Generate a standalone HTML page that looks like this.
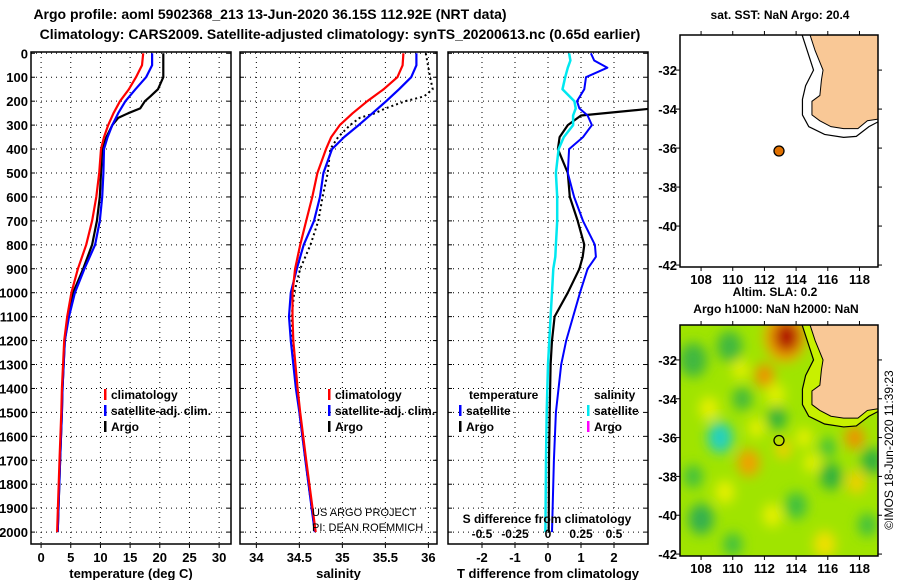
<!DOCTYPE html>
<html><head><meta charset="utf-8"><style>
html,body{margin:0;padding:0;background:#fff}
svg{display:block;font-family:"Liberation Sans",sans-serif;font-weight:bold}
</style></head><body>
<svg id="c" width="900" height="580" viewBox="0 0 900 580" xmlns="http://www.w3.org/2000/svg">
<defs>
<filter id="blur" x="-20%" y="-20%" width="140%" height="140%"><feGaussianBlur stdDeviation="6"/></filter>
<clipPath id="mapclip"><rect x="680" y="325" width="198" height="231"/></clipPath>
<clipPath id="mapclip2"><rect x="680" y="35" width="198" height="232"/></clipPath>
<clipPath id="p3clip"><rect x="448" y="52" width="200" height="492"/></clipPath>
</defs>
<text x="270" y="19" font-size="14" text-anchor="middle">Argo profile: aoml 5902368_213 13-Jun-2020 36.15S 112.92E (NRT data)</text>
<text x="340" y="39" font-size="14" text-anchor="middle">Climatology: CARS2009. Satellite-adjusted climatology: synTS_20200613.nc (0.65d earlier)</text>
</svg>
<script>
// ---------- data ----------
const depthLevels=[0,50,100,150,200,250,300,350,400,500,600,700,800,900,1000,1100,1200,1400,1500,1700,2000];
const tempClim=[17.2,17.0,16.0,14.8,13.3,12.2,11.3,10.6,10.1,9.8,9.3,8.6,7.6,6.2,5.1,4.4,3.9,3.5,3.4,3.1,2.7];
const tempSat=[18.7,18.7,17.7,15.9,14.2,13.0,12.0,11.2,10.6,10.5,10.3,9.9,9.1,7.3,5.7,4.7,4.0,3.6,3.5,3.2,2.8];
const argoDepth=[0,100,150,180,200,230,250,270,300,350,400,500,600,700,800,900,1000,1100,1200,1400,1500,1700,2000];
const tempArgo=[20.6,20.6,19.7,18.4,17.5,16.7,14.7,13.0,12.0,11.0,10.3,10.1,9.9,9.4,8.6,7.1,5.4,4.6,4.0,3.6,3.5,3.2,2.8];
const salClim=[35.71,35.70,35.64,35.48,35.29,35.12,34.97,34.87,34.81,34.71,34.65,34.58,34.51,34.45,34.42,34.42,34.43,34.48,34.51,34.58,34.69];
const salSat=[35.86,35.86,35.80,35.66,35.51,35.35,35.19,35.02,34.88,34.78,34.74,34.67,34.55,34.47,34.40,34.38,34.40,34.46,34.50,34.57,34.68];
const salArgo=[35.97,36.02,36.05,35.95,35.73,35.5,35.38,35.2,35.09,34.95,34.86,34.83,34.77,34.72,34.63,34.51,34.44,34.41,34.42,34.47,34.50,34.57,34.68];
const diffDepth=[0,30,60,100,150,200,230,260,300,350,400,500,600,700,800,850,900,1000,1100,1200,1300,1500,1700,2000];
const tDiffSat=[1.3,1.4,1.8,1.15,1.1,0.88,0.95,1.2,1.33,1.06,0.64,0.6,0.79,1.06,1.42,1.45,1.2,0.97,0.76,0.55,0.4,0.24,0.18,0.12];
const tDiffArgo=[3.5,3.5,3.5,3.5,3.5,3.4,3.2,1.0,0.6,0.35,0.3,0.6,0.66,0.9,1.1,1.05,0.95,0.6,0.2,0.12,0.08,0.05,0.03,0.02];
const sDiffSat=[0.16,0.17,0.15,0.13,0.11,0.2,0.21,0.19,0.19,0.12,0.08,0.06,0.07,0.07,0.06,0.055,0.04,0.03,0.02,0.01,0.0,-0.01,-0.015,-0.02];
const depthTicks=[0,100,200,300,400,500,600,700,800,900,1000,1100,1200,1300,1400,1500,1600,1700,1800,1900,2000];
const tempTicks=[0,5,10,15,20,25,30];
const salTicks=[34,34.5,35,35.5,36];
const tDiffTicks=[-2,-1,0,1,2];
const sDiffTicks=[-0.5,-0.25,0,0.25,0.5];
const lonTicks=[108,110,112,114,116,118];
const latTicks=[-32,-34,-36,-38,-40,-42];
const argoLon=112.92, argoLat=-36.15;
// ---------- helpers ----------
const svg=document.getElementById('c');
const NS='http://www.w3.org/2000/svg';
function mk(tag,attrs,parent){const e=document.createElementNS(NS,tag);for(const k in attrs)e.setAttribute(k,attrs[k]);(parent||svg).appendChild(e);return e;}
function txt(x,y,s,size,anchor,parent,weight){const t=mk('text',{x:x,y:y,'font-size':size,'text-anchor':anchor||'start'},parent);if(weight)t.setAttribute('font-weight',weight);t.textContent=s;return t;}
const Y0=53.3, YS=0.2394;
const yD=d=>Y0+d*YS;
const TOP=52, BOT=544;
const panels=[
 {name:'temperature',x0:31,x1:231,v0:-1.7,v1:32,ticks:tempTicks,title:'temperature (deg C)'},
 {name:'salinity',x0:240,x1:437,v0:33.81,v1:36.1,ticks:salTicks,title:'salinity'},
 {name:'difference',x0:448,x1:648,v0:-3.03,v1:3.03,ticks:tDiffTicks,title:'T difference from climatology'}];
panels.forEach(p=>{p.x=v=>p.x0+(v-p.v0)/(p.v1-p.v0)*(p.x1-p.x0);});
const xS=v=>panels[2].x(v*4);
panels.forEach((p,i)=>{
 const g=mk('g',{});
 
 
 depthTicks.forEach(d=>{
  const gl=mk('line',{x1:p.x0,x2:p.x1,y1:yD(d),y2:yD(d),stroke:'#000','stroke-width':1,'stroke-dasharray':'1 4'},g);
  
  
  mk('line',{x1:p.x0,x2:p.x0+4,y1:yD(d),y2:yD(d),stroke:'#000'},g);
  mk('line',{x1:p.x1-4,x2:p.x1,y1:yD(d),y2:yD(d),stroke:'#000'},g);
 });
 p.ticks.forEach(v=>{
  const gl=mk('line',{x1:p.x(v),x2:p.x(v),y1:TOP,y2:BOT,stroke:'#000','stroke-width':1,'stroke-dasharray':'1 4'},g);
  
  
  mk('line',{x1:p.x(v),x2:p.x(v),y1:BOT,y2:BOT+4,stroke:'#000'},g);
  const t=txt(p.x(v),562,String(v),13,'middle',g);
  
  
 });
 const r=mk('rect',{x:p.x0,y:TOP,width:p.x1-p.x0,height:BOT-TOP,fill:'none',stroke:'#000','stroke-width':1.5},g);
 
 
 const at=txt((p.x0+p.x1)/2,578,p.title,13,'middle',g);
 
 
});
depthTicks.forEach(d=>{
 const t=txt(28,yD(d)+5,String(d),13,'end');
 
 
});
function line(xs,ds,xf,color,w,name,dash,clip){
 const pts=xs.map((v,i)=>xf(v).toFixed(1)+','+yD(ds[i]).toFixed(1)).join(' ');
 const pl=mk('polyline',{points:pts,fill:'none',stroke:color,'stroke-width':w,'stroke-linejoin':'round'});
 if(dash)pl.setAttribute('stroke-dasharray',dash);
 if(clip)pl.setAttribute('clip-path','url(#'+clip+')');
 
 
}
const P=panels;
line(tempArgo,argoDepth,P[0].x,'#000',2.2,'temp-argo-line');
line(tempSat,depthLevels,P[0].x,'#0000ff',2.2,'temp-satellite-line');
line(tempClim,depthLevels,P[0].x,'#ff0000',2.2,'temp-climatology-line');
line(salArgo,argoDepth,P[1].x,'#000',2,'sal-argo-line','2 3');
line(salSat,depthLevels,P[1].x,'#0000ff',2.2,'sal-satellite-line');
line(salClim,depthLevels,P[1].x,'#ff0000',2.2,'sal-climatology-line');
line(tDiffArgo,diffDepth,P[2].x,'#000',2.2,'tdiff-argo-line',null,'p3clip');
line(tDiffSat,diffDepth,P[2].x,'#0000ff',2,'tdiff-satellite-line');
line(sDiffSat,diffDepth,xS,'#00e8f0',2.5,'sdiff-satellite-line');
// legends
function leg(x,y,color,label,nm){
 const g=mk('g',{});
 
 
 mk('rect',{x:x,y:y-10,width:2.5,height:11,fill:color},g);
 txt(x+7,y,label,12,'start',g);
}
[[104,399,'#ff0000','climatology'],[104,415,'#0000ff','satellite-adj. clim.'],[104,431,'#000','Argo']].forEach(a=>leg(a[0],a[1],a[2],a[3],'temp-legend-entry'));
[[328,399,'#ff0000','climatology'],[328,415,'#0000ff','satellite-adj. clim.'],[328,431,'#000','Argo']].forEach(a=>leg(a[0],a[1],a[2],a[3],'sal-legend-entry'));
const lt=txt(469,399,'temperature',12);
const ls=txt(594,399,'salinity',12);
[[459,415,'#0000ff','satellite'],[459,431,'#000','Argo']].forEach(a=>leg(a[0],a[1],a[2],a[3],'tdiff-legend-entry'));
[[587,415,'#00e8f0','satellite'],[587,431,'#ff00ff','Argo']].forEach(a=>leg(a[0],a[1],a[2],a[3],'sdiff-legend-entry'));
// S diff axis labels
const sdt=txt(547,523,'S difference from climatology',12,'middle');

sDiffTicks.forEach(v=>{const t=txt(xS(v),538,String(v),12,'middle');});
// credit
const cr=mk('g',{});
txt(312,516,'US ARGO PROJECT',11,'start',cr,'normal');
txt(312,531,'PI: DEAN ROEMMICH',11,'start',cr,'normal');
// ---------- maps ----------
const LON0=106.67,LON1=119.17;
const land=[[114.8,-30.0],[115.2,-31.0],[115.7,-32.0],[115.6,-32.5],[115.5,-33.3],[115.0,-33.6],[115.0,-34.3],[115.5,-34.6],[116.2,-34.9],[117.0,-35.0],[117.9,-35.0],[118.5,-34.6],[119.3,-34.5],[119.3,-30.0]];
const contour=[[114.3,-30.0],[114.9,-31.5],[115.1,-32.0],[114.6,-32.8],[114.4,-33.5],[114.4,-34.3],[114.8,-34.9],[115.8,-35.3],[117.0,-35.45],[117.8,-35.4],[118.6,-34.9],[119.3,-34.6]];
const blobs=[[113.3,-30.8,1.3,'#f0a000'],[113.4,-30.8,0.8,'#b01000'],[112.0,-32.8,0.6,'#f09000'],[109.2,-36.0,0.8,'#20d0c0'],[111.0,-37.3,0.7,'#f0a000'],[117.7,-36.0,0.6,'#f09000'],[117.8,-38.3,0.6,'#f0d000'],[115.8,-41.5,0.7,'#f0e000'],[112.7,-33.8,0.6,'#e0f000'],[113.2,-36.6,0.5,'#f0d000'],[107.5,-32.0,0.9,'#40b840'],[109.8,-31.3,0.8,'#40b840'],[110.6,-34.0,0.6,'#40b840'],[112.8,-35.0,0.6,'#30b040'],[118.8,-37.2,0.7,'#30b040'],[108.0,-40.2,0.8,'#30b050'],[116.2,-38.0,0.7,'#30b040'],[114.0,-39.5,0.7,'#40c040'],[116.0,-36.5,0.5,'#40c040'],[110.0,-41.5,0.6,'#40c040'],[118.5,-40.5,0.6,'#40c040'],[107.5,-38.0,0.6,'#40c040'],[112.5,-40.0,0.6,'#e8f000'],[109.5,-38.8,0.6,'#e8f000'],[115.0,-37.3,0.5,'#e8f000'],[108.5,-34.5,0.6,'#e8f000'],[111.5,-35.5,0.5,'#e8f000'],[114.5,-36.0,0.5,'#e8f000'],[110.5,-32.5,0.5,'#e8f000']];
function drawMap(top,bot,lat0,lat1,clip,hm,nm){
 const mx=l=>680+(l-LON0)/(LON1-LON0)*198;
 const my=l=>top+(lat0-l)/(lat0-lat1)*(bot-top);
 const g=mk('g',{'clip-path':'url(#'+clip+')'});
 
 
 mk('rect',{x:670,y:top-5,width:220,height:bot-top+10,fill:hm?'#a0e400':'#fff'},g);
 const band=contour.concat(land.slice(0,13).reverse()).map(p=>mx(p[0])+','+my(p[1])).join(' ');
 if(hm){
  const bg=mk('g',{filter:'url(#blur)'},g);
  blobs.forEach(b=>{
   const c=mk('ellipse',{cx:mx(b[0]),cy:my(b[1]),rx:b[2]*15.8,ry:b[2]*19.4,fill:b[3]},bg);
   
   
  });
  mk('polygon',{points:band,fill:'#c8f000'},g);
 } else {
  mk('polygon',{points:band,fill:'#fff'},g);
 }
 const lp=mk('polygon',{points:land.map(p=>mx(p[0])+','+my(p[1])).join(' '),fill:'#f9c896',stroke:'#000','stroke-width':1},g);
 
 
 const cl=mk('polyline',{points:contour.map(p=>mx(p[0])+','+my(p[1])).join(' '),fill:'none',stroke:'#000','stroke-width':1.2},g);
 
 
 const dot=mk('circle',{cx:mx(argoLon),cy:my(argoLat),r:5,fill:hm?'none':'#e07000',stroke:'#000','stroke-width':1.3});
 
 
 const fr=mk('rect',{x:680,y:top,width:198,height:bot-top,fill:'none',stroke:'#000','stroke-width':1.5});
 
 
 lonTicks.forEach(l=>{
  mk('line',{x1:mx(l),x2:mx(l),y1:bot,y2:bot+4,stroke:'#000'});
  mk('line',{x1:mx(l),x2:mx(l),y1:top-4,y2:top,stroke:'#000'});
  const t=txt(mx(l),bot+17,String(l),13,'middle');
  
  
 });
 latTicks.forEach(l=>{
  mk('line',{x1:676,x2:680,y1:my(l),y2:my(l),stroke:'#000'});
  mk('line',{x1:878,x2:882,y1:my(l),y2:my(l),stroke:'#000'});
  const t=txt(677,my(l)+5,String(l),13,'end');
  
  
 });
}
drawMap(35,267,-30.2,-42.1,'mapclip2',false,'sst-map');
drawMap(325,556,-30.2,-42.1,'mapclip',true,'sla-map');
[['sat. SST: NaN  Argo: 20.4',780,19,'sst-map-title'],['Altim. SLA: 0.2',775,296,'sla-map-title'],['Argo h1000: NaN h2000: NaN',776,313,'height-map-title']].forEach(a=>{
 const t=txt(a[1],a[2],a[0],12,'middle');
 
 
});
const rt=txt(0,0,'©IMOS 18-Jun-2020 11:39:23',12,'middle',null,'normal');
rt.setAttribute('transform','translate(893,450) rotate(-90)');


</script>
</body></html>
